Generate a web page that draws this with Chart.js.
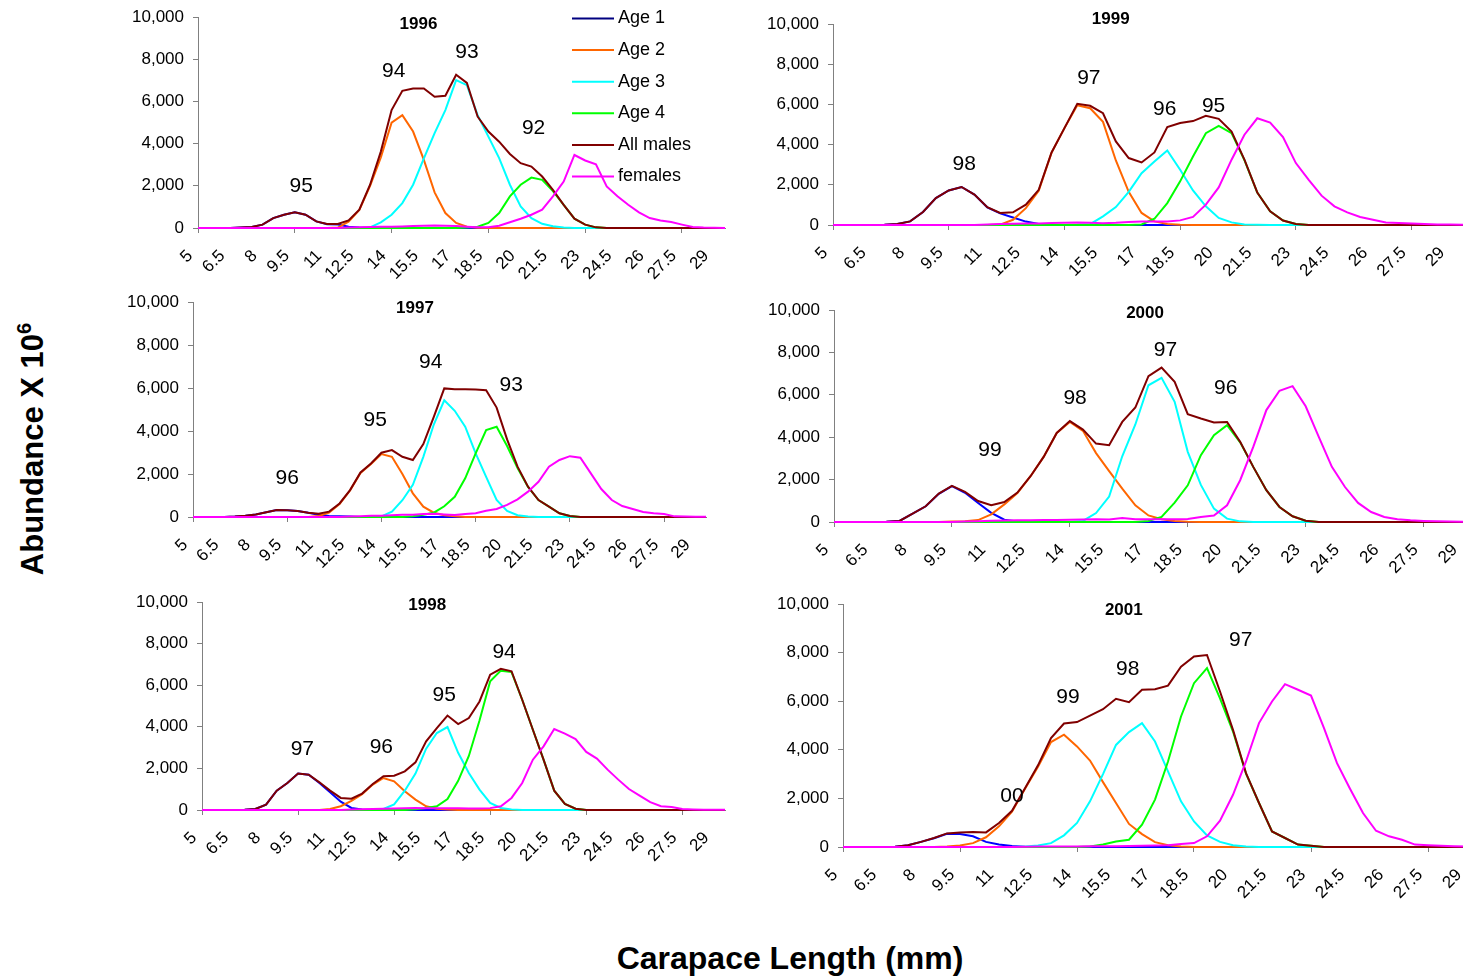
<!DOCTYPE html>
<html>
<head>
<meta charset="utf-8">
<title>Abundance by carapace length, 1996-2001</title>
<style>
  html, body { margin: 0; padding: 0; background: #fff; }
  body { width: 1463px; height: 977px; overflow: hidden; position: relative; font-family: "Liberation Sans", Arial, sans-serif; }
  canvas { position: absolute; }
  .axis-title { position: absolute; font-weight: bold; white-space: nowrap; color: #000; }
  #ytitle { left: 33px; top: 449px; font-size: 31px; transform: translate(-50%, -50%) rotate(-90deg); }
  #ytitle sup { font-size: 20px; vertical-align: 12px; line-height: 0; }
  #xtitle { left: 790px; top: 958px; font-size: 32px; transform: translate(-50%, -50%); }
</style>
</head>
<body>
<canvas id="c1996"></canvas>
<canvas id="c1999"></canvas>
<canvas id="c1997"></canvas>
<canvas id="c2000"></canvas>
<canvas id="c1998"></canvas>
<canvas id="c2001"></canvas>
<div class="axis-title" id="ytitle">Abundance X 10<sup>6</sup></div>
<div class="axis-title" id="xtitle">Carapace Length (mm)</div>

<script src="https://cdn.jsdelivr.net/npm/chart.js"></script>
<script>
    // carapace length classes (mm)
    const lengths = ['5','5.5','6','6.5','7','7.5','8','8.5','9','9.5',
                     '10','10.5','11','11.5','12','12.5','13','13.5','14','14.5',
                     '15','15.5','16','16.5','17','17.5','18','18.5','19','19.5',
                     '20','20.5','21','21.5','22','22.5','23','23.5','24','24.5',
                     '25','25.5','26','26.5','27','27.5','28','28.5','29','29.5'];
    const seriesNames = ['Age 1', 'Age 2', 'Age 3', 'Age 4', 'All males', 'females'];
    const yTicks = [0, 2000, 4000, 6000, 8000, 10000];

    // 1996
    const age1_1996 = [0,0,0,0,20, 50,160,470,630,740, 630,315,180,170,60, 20,0,0,0,0, 0,0,0,0,0, 0,0,0,0,0, 0,0,0,0,0, 0,0,0,0,0, 0,0,0,0,0, 0,0,0,0,0];
    const age2_1996 = [0,0,0,0,0, 0,0,0,0,0, 0,0,0,20,300, 850,2000,3350,4990,5350, 4570,3230,1690,710,240, 60,10,0,0,0, 0,0,0,0,0, 0,0,0,0,0, 0,0,0,0,0, 0,0,0,0,0];
    const age3_1996 = [0,0,0,0,0, 0,0,0,0,0, 0,0,0,0,0, 0,30,270,630,1180, 2050,3300,4500,5590,7010, 6770,5350,4330,3310,2050, 1020,470,200,80,20, 0,0,0,0,0, 0,0,0,0,0, 0,0,0,0,0];
    const age4_1996 = [0,0,0,0,0, 0,0,0,0,0, 0,0,0,0,0, 0,0,0,0,0, 0,0,0,0,0, 20,60,240,710,1500, 2050,2390,2280,1750,1100, 440,160,30,0,0, 0,0,0,0,0, 0,0,0,0,0];
    const males_1996 = [0,0,0,0,20, 50,160,470,630,740, 630,315,190,190,360, 870,2050,3620,5590,6500, 6610,6610,6220,6270,7260, 6880,5280,4570,4090,3510, 3070,2910,2440,1810,1100, 440,160,30,0,0, 0,0,0,0,0, 0,0,0,0,0];
    const females_1996 = [0,0,0,0,0, 0,0,0,0,0, 0,0,0,0,20, 30,50,60,60,70, 90,110,120,110,100, 60,30,40,110,270, 440,630,870,1500,2200, 3460,3200,3020,1970,1500, 1100,740,470,360,280, 160,50,20,10,0];
    const notes_1996 = [['95', 9.8, 2000], ['94', 14.1, 7430], ['93', 17.5, 8330], ['92', 20.6, 4740]];
    const title_1996 = ['1996', 15.25, 9650];

    // 1999
    const age1_1999 = [0,0,0,0,10, 50,180,650,1340,1720, 1890,1510,880,580,370, 170,50,10,0,0, 0,0,0,0,0, 0,0,0,0,0, 0,0,0,0,0, 0,0,0,0,0, 0,0,0,0,0, 0,0,0,0,0];
    const age2_1999 = [0,0,0,0,0, 0,0,0,0,0, 0,0,0,20,260, 840,1700,3600,4820,5960, 5810,5130,3210,1650,600, 180,50,10,0,0, 0,0,0,0,0, 0,0,0,0,0, 0,0,0,0,0, 0,0,0,0,0];
    const age3_1999 = [0,0,0,0,0, 0,0,0,0,0, 0,0,0,0,0, 0,0,0,0,10, 40,430,890,1650,2580, 3160,3710,2750,1720,930, 350,130,30,10,0, 0,0,0,0,0, 0,0,0,0,0, 0,0,0,0,0];
    const age4_1999 = [0,0,0,0,0, 0,0,0,0,0, 0,0,0,0,0, 0,0,0,0,0, 0,0,0,0,30, 310,1090,2170,3410,4570, 4930,4570,3230,1610,680, 220,50,0,0,0, 0,0,0,0,0, 0,0,0,0,0];
    const males_1999 = [0,0,0,0,10, 50,180,650,1340,1720, 1890,1510,890,600,630, 1010,1750,3610,4820,6030, 5930,5560,4160,3330,3110, 3610,4870,5070,5170,5430, 5280,4650,3250,1620,680, 220,50,0,0,0, 0,0,0,0,0, 0,0,0,0,0];
    const females_1999 = [0,0,0,0,0, 0,0,0,0,0, 0,0,30,50,60, 70,80,100,110,120, 110,90,110,150,170, 180,180,230,400,1010, 1870,3250,4490,5310,5100, 4370,3080,2250,1460,930, 630,400,260,130,100, 80,50,30,20,10];
    const notes_1999 = [['98', 10.1, 3000], ['97', 14.95, 7320], ['96', 17.9, 5780], ['95', 19.8, 5930]];
    const title_1999 = ['1999', 15.8, 10250];

    // 1997
    const age1_1997 = [0,0,0,0,20, 60,120,220,330,310, 280,200,100,50,30, 20,0,0,0,0, 0,0,0,0,0, 0,0,0,0,0, 0,0,0,0,0, 0,0,0,0,0, 0,0,0,0,0, 0,0,0,0,0];
    const age2_1997 = [0,0,0,0,0, 0,0,0,0,0, 0,0,50,200,600, 1230,2050,2470,2930,2800, 2000,1100,480,200,80, 30,0,0,0,0, 0,0,0,0,0, 0,0,0,0,0, 0,0,0,0,0, 0,0,0,0,0];
    const age3_1997 = [0,0,0,0,0, 0,0,0,0,0, 0,0,0,0,0, 0,0,0,30,250, 780,1500,2800,4300,5430, 4940,4200,2960,1870,790, 280,80,20,0,0, 0,0,0,0,0, 0,0,0,0,0, 0,0,0,0,0];
    const age4_1997 = [0,0,0,0,0, 0,0,0,0,0, 0,0,0,0,0, 0,0,0,0,0, 0,30,100,200,500, 940,1800,2960,4040,4200, 3300,2280,1400,790,480, 170,50,0,0,0, 0,0,0,0,0, 0,0,0,0,0];
    const males_1997 = [0,0,0,0,20, 60,120,220,330,310, 280,200,150,250,630, 1250,2070,2490,2990,3110, 2800,2650,3390,4660,5980, 5940,5940,5930,5900,5090, 3610,2340,1410,790,480, 170,50,0,0,0, 0,0,0,0,0, 0,0,0,0,0];
    const females_1997 = [0,0,0,0,0, 0,0,0,0,0, 0,0,0,0,0, 20,40,60,60,80, 100,110,140,150,120, 90,140,170,290,370, 560,820,1180,1640,2340, 2650,2830,2760,2030,1300, 790,510,370,230,170, 140,30,20,10,10];
    const notes_1997 = [['96', 9.5, 1810], ['95', 13.7, 4500], ['94', 16.35, 7200], ['93', 20.2, 6130]];
    const title_1997 = ['1997', 15.6, 9710];

    // 2000
    const age1_2000 = [0,0,0,0,10, 50,390,740,1330,1690, 1380,900,430,110,20, 0,0,0,0,0, 0,0,0,0,0, 0,0,0,0,0, 0,0,0,0,0, 0,0,0,0,0, 0,0,0,0,0, 0,0,0,0,0];
    const age2_2000 = [0,0,0,0,0, 0,0,0,0,20, 40,90,360,830,1370, 2160,3070,4200,4720,4300, 3250,2400,1570,790,310, 130,50,10,0,0, 0,0,0,0,0, 0,0,0,0,0, 0,0,0,0,0, 0,0,0,0,0];
    const age3_2000 = [0,0,0,0,0, 0,0,0,0,0, 0,0,0,0,0, 0,0,0,0,50, 420,1200,3100,4600,6450, 6800,5670,3310,1750,630, 160,30,0,0,0, 0,0,0,0,0, 0,0,0,0,0, 0,0,0,0,0];
    const age4_2000 = [0,0,0,0,0, 0,0,0,0,0, 0,0,0,0,0, 0,0,0,0,0, 0,0,0,0,50, 240,910,1730,3150,4090, 4570,3760,2600,1500,710, 270,60,0,0,0, 0,0,0,0,0, 0,0,0,0,0];
    const males_2000 = [0,0,0,0,10, 50,390,740,1340,1700, 1420,990,790,940,1390, 2160,3070,4200,4760,4360, 3700,3620,4720,5400,6880, 7280,6610,5090,4880,4690, 4720,3780,2600,1500,710, 270,60,0,0,0, 0,0,0,0,0, 0,0,0,0,0];
    const females_2000 = [0,0,0,0,0, 0,0,0,0,0, 20,40,60,70,80, 80,90,100,110,120, 130,120,190,130,130, 130,130,140,240,310, 790,1970,3540,5280,6190, 6410,5460,4020,2600,1650, 900,470,240,130,80, 50,30,20,10,0];
    const notes_2000 = [['99', 10.95, 3390], ['98', 14.2, 5840], ['97', 17.65, 8110], ['96', 19.95, 6320]];
    const title_2000 = ['2000', 16.87, 9860];

    // 1998
    const age1_1998 = [0,0,0,0,10, 50,260,930,1300,1750, 1700,1300,850,400,100, 30,0,0,0,0, 0,0,0,0,0, 0,0,0,0,0, 0,0,0,0,0, 0,0,0,0,0, 0,0,0,0,0, 0,0,0,0,0];
    const age2_1998 = [0,0,0,0,0, 0,0,0,0,0, 0,0,50,180,440, 760,1220,1540,1380,900, 500,180,60,20,0, 0,0,0,0,0, 0,0,0,0,0, 0,0,0,0,0, 0,0,0,0,0, 0,0,0,0,0];
    const age3_1998 = [0,0,0,0,0, 0,0,0,0,0, 0,0,0,0,0, 0,0,50,270,930, 1750,2950,3700,3990,2750, 1780,980,340,100,30, 0,0,0,0,0, 0,0,0,0,0, 0,0,0,0,0, 0,0,0,0,0];
    const age4_1998 = [0,0,0,0,0, 0,0,0,0,0, 0,0,0,0,0, 0,0,0,0,0, 30,100,180,530,1400, 2600,4300,6190,6700,6630, 5300,3860,2420,930,290, 60,0,0,0,0, 0,0,0,0,0, 0,0,0,0,0];
    const males_1998 = [0,0,0,0,10, 50,260,930,1300,1750, 1700,1330,930,580,540, 790,1250,1620,1650,1860, 2290,3300,3940,4540,4130, 4420,5220,6510,6790,6670, 5300,3860,2420,930,290, 60,0,0,0,0, 0,0,0,0,0, 0,0,0,0,0];
    const females_1998 = [0,0,0,0,0, 0,0,0,0,0, 0,0,0,0,20, 40,50,60,70,80, 100,90,80,90,80, 70,70,90,180,580, 1300,2420,3060,3890,3670, 3410,2790,2470,1940,1460, 1010,690,380,180,140, 50,30,10,10,10];
    const notes_1998 = [['97', 9.7, 2900], ['96', 13.4, 3040], ['95', 16.35, 5500], ['94', 19.15, 7610]];
    const title_1998 = ['1998', 15.55, 9820];

    // 2001
    const age1_2001 = [0,0,0,0,10, 70,210,360,540,530, 440,210,100,40,10, 0,0,0,0,0, 0,0,0,0,0, 0,0,0,0,0, 0,0,0,0,0, 0,0,0,0,0, 0,0,0,0,0, 0,0,0,0,0];
    const age2_2001 = [0,0,0,0,0, 0,0,0,20,60, 160,400,850,1450,2400, 3300,4320,4620,4140,3560, 2670,1810,950,530,200, 70,20,0,0,0, 0,0,0,0,0, 0,0,0,0,0, 0,0,0,0,0, 0,0,0,0,0];
    const age3_2001 = [0,0,0,0,0, 0,0,0,0,0, 0,0,0,0,20, 60,160,480,990,1880, 3000,4200,4730,5100,4340, 3110,1880,1050,480,210, 70,20,0,0,0, 0,0,0,0,0, 0,0,0,0,0, 0,0,0,0,0];
    const age4_2001 = [0,0,0,0,0, 0,0,0,0,0, 0,0,0,0,0, 0,0,0,0,20, 100,230,300,920,1950, 3520,5370,6740,7360,6120, 4750,3020,1810,640,370, 100,50,0,0,0, 0,0,0,0,0, 0,0,0,0,0];
    const males_2001 = [0,0,0,0,10, 70,210,370,560,600, 620,600,990,1490,2420, 3360,4480,5080,5140,5410, 5670,6100,5960,6470,6490, 6640,7420,7840,7900,6400, 4820,3040,1810,640,370, 100,50,0,0,0, 0,0,0,0,0, 0,0,0,0,0];
    const females_2001 = [0,0,0,0,0, 0,0,0,0,0, 0,0,0,0,10, 20,20,20,20,30, 30,30,40,50,60, 70,120,160,440,1080, 2150,3520,5100,5990,6700, 6470,6230,4890,3450,2400, 1400,670,440,300,100, 70,50,30,20,10];
    const notes_2001 = [['00', 11.5, 2070], ['99', 13.65, 6180], ['98', 15.95, 7330], ['97', 20.3, 8520]];
    const title_2001 = ['2001', 15.8, 9750];

    // styling / layout
    const FONT = '"Liberation Sans", Arial, sans-serif';
    const AXIS = '#808080';
    const lineColors = ['#0000FF', '#FF6600', '#00FFFF', '#00FF00', '#800000', '#FF00FF'];
    const legendColors = ['#000080', '#FF6600', '#00FFFF', '#00FF00', '#800000', '#FF00FF'];
    // outer space round each plot area: y-axis width, top pad, right pad, x-axis height
    const YW = 80, PT = 26, PR = 32, XH = 72;

    // plot-area boxes on the page
    const boxes = {
        c1996: {left: 198, top: 17, right: 725, bottom: 228},
        c1999: {left: 833, top: 24, right: 1463, bottom: 225},
        c1997: {left: 193, top: 302, right: 706, bottom: 517},
        c2000: {left: 834, top: 310, right: 1476, bottom: 522},
        c1998: {left: 202, top: 602, right: 725, bottom: 810},
        c2001: {left: 843, top: 604, right: 1480, bottom: 847}
    };

    Chart.defaults.font.family = FONT;
    Chart.defaults.color = '#000';

    function mmToIndex(mm) {
        return (mm - 5) * 2;
    }

    function drawText(chart, notes, title, withLegend) {
        const ctx = chart.ctx;
        const x = chart.scales.x, y = chart.scales.y;
        ctx.save();
        ctx.fillStyle = '#000';
        ctx.textAlign = 'center';
        ctx.textBaseline = 'middle';
        ctx.font = '21px ' + FONT;
        notes.forEach(n => {
            ctx.fillText(n[0], x.getPixelForValue(mmToIndex(n[1])), y.getPixelForValue(n[2]));
        });
        ctx.font = 'bold 17px ' + FONT;
        ctx.fillText(title[0], x.getPixelForValue(mmToIndex(title[1])), y.getPixelForValue(title[2]));

        if (withLegend) {
            const a = chart.chartArea;
            ctx.font = '18px ' + FONT;
            ctx.textAlign = 'left';
            seriesNames.forEach((name, k) => {
                const yy = a.top + 1.5 + k * 31.6;
                ctx.strokeStyle = legendColors[k];
                ctx.lineWidth = 2;
                ctx.beginPath();
                ctx.moveTo(a.left + 374, yy);
                ctx.lineTo(a.left + 416, yy);
                ctx.stroke();
                ctx.fillStyle = '#000';
                ctx.fillText(name, a.left + 420, yy);
            });
        }
        ctx.restore();
    }

    function makeChart(id, series, notes, title, withLegend) {
        const box = boxes[id];
        const canvas = document.getElementById(id);
        canvas.width = box.right - box.left + YW + PR;
        canvas.height = box.bottom - box.top + PT + XH;
        canvas.style.left = (box.left - YW) + 'px';
        canvas.style.top = (box.top - PT) + 'px';

        return new Chart(canvas, {
            type: 'line',
            data: {
                labels: lengths,
                datasets: series.map((values, k) => ({
                    label: seriesNames[k],
                    data: values,
                    borderColor: lineColors[k],
                    backgroundColor: lineColors[k],
                    borderWidth: 2,
                    pointRadius: 0,
                    tension: 0,
                    fill: false,
                    clip: false,
                    order: 6 - k
                }))
            },
            options: {
                responsive: false,
                animation: false,
                devicePixelRatio: 1,
                layout: {
                    padding: {top: PT, right: PR, left: 0, bottom: 0}
                },
                plugins: {
                    legend: {display: false},
                    title: {display: false},
                    tooltip: {enabled: false}
                },
                scales: {
                    x: {
                        type: 'category',
                        offset: false,
                        afterFit: s => { s.height = XH; },
                        border: {display: true, color: AXIS, width: 1},
                        grid: {
                            drawOnChartArea: false,
                            drawTicks: true,
                            tickLength: 5,
                            color: c => (c.index % 3 === 0 ? AXIS : 'rgba(0,0,0,0)')
                        },
                        ticks: {
                            autoSkip: false,
                            maxRotation: 45,
                            minRotation: 45,
                            padding: 13,
                            labelOffset: -8,
                            font: {size: 17},
                            color: '#000',
                            callback: function (val, idx) {
                                return idx % 3 === 0 ? this.getLabelForValue(val) : null;
                            }
                        }
                    },
                    y: {
                        min: 0,
                        max: 10000,
                        afterFit: s => { s.width = YW; },
                        afterBuildTicks: s => { s.ticks = yTicks.map(v => ({value: v})); },
                        border: {display: true, color: AXIS, width: 1},
                        grid: {
                            drawOnChartArea: false,
                            drawTicks: true,
                            tickLength: 5,
                            color: AXIS
                        },
                        ticks: {
                            padding: 9,
                            font: {size: 17},
                            color: '#000',
                            callback: v => Number(v).toLocaleString('en-US')
                        }
                    }
                }
            },
            plugins: [{
                id: 'panelText',
                afterDatasetsDraw(chart) { drawText(chart, notes, title, withLegend); }
            }]
        });
    }

    makeChart('c1996', [age1_1996, age2_1996, age3_1996, age4_1996, males_1996, females_1996], notes_1996, title_1996, true);
    makeChart('c1999', [age1_1999, age2_1999, age3_1999, age4_1999, males_1999, females_1999], notes_1999, title_1999, false);
    makeChart('c1997', [age1_1997, age2_1997, age3_1997, age4_1997, males_1997, females_1997], notes_1997, title_1997, false);
    makeChart('c2000', [age1_2000, age2_2000, age3_2000, age4_2000, males_2000, females_2000], notes_2000, title_2000, false);
    makeChart('c1998', [age1_1998, age2_1998, age3_1998, age4_1998, males_1998, females_1998], notes_1998, title_1998, false);
    makeChart('c2001', [age1_2001, age2_2001, age3_2001, age4_2001, males_2001, females_2001], notes_2001, title_2001, false);
</script>
</body>
</html>
